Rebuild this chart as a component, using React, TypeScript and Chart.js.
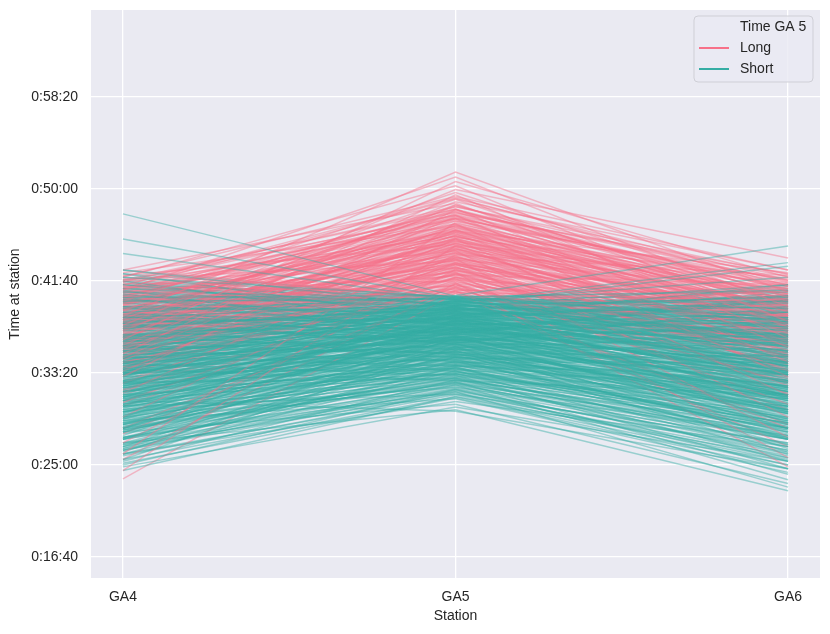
import React, { useEffect, useRef } from 'react';
import { Chart, registerables } from 'chart.js';

Chart.register(...registerables);

// Stations on the x axis, times in seconds
const stations = ['GA4', 'GA5', 'GA6'];
const yTicks = [1000, 1500, 2000, 2500, 3000, 3500];
const legendTitle = 'Time GA 5';
const groupNames = ['Long', 'Short'];

const longGA4 = [
  2310, 2450, 2180, 2520, 2260, 2390, 2105, 2475, 2340, 2230,
  2560, 2150, 2295, 2410, 1980, 2365, 2205, 2500, 2085, 2320,
  2430, 2240, 1560, 2375, 2130, 2545, 2285, 2010, 2455, 2190,
  2350, 2070, 2495, 2215, 1890, 2400, 2275, 2140, 2530, 1470,
  2250, 2385, 2035, 2460, 2165, 2305, 1760, 2425, 2120, 2355,
  2200, 2510, 1945, 2330, 2090, 2270, 2440, 1620, 2225, 2380,
  2055, 2290, 2415, 1840, 2170, 2345, 2485, 2110, 1530, 2265,
  2395, 2145, 2020, 2320, 1700, 2245, 2470, 2185, 1425, 2060,
  2280, 2410, 2195, 2335, 2460, 2125, 2370, 2250, 2505, 2160,
  2300, 2435, 2075, 2220, 2390, 2270, 2145, 2480, 2315, 1990,
  2360, 2240, 2420, 2100, 2285, 2525, 2175, 2340, 1905, 2405,
  2210, 2450, 2130, 2325, 2260, 2030, 2380, 2495, 2190, 2300,
  2420, 2080, 2350, 2235, 1820, 2465, 2155, 2310, 2275, 2400,
  2115, 2345, 1670, 2205, 2440, 2290, 2050, 2370, 2230, 2160,
  2080, 2210, 1960, 2150, 2290, 2030, 2180, 1910, 2250, 2110,
  2000, 2240, 2060, 1880, 2200, 2130, 2270, 1990, 2170, 2050,
  2230, 1940, 2120, 2300, 2020, 2190, 1850, 2140, 2260, 2090,
];
const longGA5 = [
  3092, 3065, 3041, 3018, 2997, 2981, 2968, 2952, 2944, 2931,
  2922, 2913, 2905, 2893, 2887, 2876, 2868, 2859, 2851, 2843,
  2838, 2826, 2819, 2811, 2803, 2797, 2788, 2779, 2772, 2766,
  2758, 2751, 2743, 2737, 2729, 2722, 2714, 2706, 2699, 2693,
  2686, 2678, 2672, 2664, 2657, 2649, 2643, 2636, 2628, 2621,
  2615, 2607, 2598, 2592, 2585, 2577, 2569, 2562, 2556, 2547,
  2541, 2533, 2526, 2519, 2512, 2505, 2498, 2491, 2486, 2479,
  2473, 2466, 2461, 2455, 2449, 2446, 2441, 2438, 2434, 2431,
  2915, 2862, 2734, 2808, 2947, 2683, 2771, 2626, 2890, 2571,
  2702, 2839, 2548, 2657, 2754, 2597, 2521, 2873, 2689, 2483,
  2796, 2614, 2827, 2532, 2718, 2959, 2575, 2745, 2462, 2781,
  2641, 2856, 2509, 2673, 2602, 2470, 2742, 2903, 2559, 2665,
  2812, 2497, 2728, 2587, 2452, 2844, 2538, 2695, 2631, 2765,
  2516, 2709, 2444, 2593, 2881, 2652, 2489, 2777, 2618, 2555,
  2612, 2775, 2538, 2690, 2854, 2577, 2731, 2506, 2803, 2649,
  2563, 2762, 2601, 2481, 2719, 2668, 2836, 2545, 2704, 2590,
  2747, 2522, 2677, 2889, 2568, 2726, 2467, 2634, 2791, 2623,
];
const longGA6 = [
  2440, 2360, 2520, 2280, 2625, 2410, 2190, 2475, 2330, 2560,
  2250, 2390, 2495, 2140, 2430, 2310, 2540, 2060, 2380, 2455,
  2215, 2505, 2350, 1980, 2420, 2290, 2470, 2170, 2545, 2320,
  2100, 2400, 2265, 2515, 1880, 2360, 2445, 2230, 2010, 2485,
  2300, 2160, 2430, 1760, 2375, 2250, 2530, 2080, 2340, 1650,
  2460, 2205, 2020, 2390, 2285, 1930, 2415, 2125, 2350, 1540,
  2240, 2480, 2090, 2320, 1830, 2400, 2180, 1490, 2270, 2045,
  2370, 2150, 1950, 2310, 2440, 1700, 2220, 2390, 1600, 2110,
  2395, 2470, 2260, 2335, 2505, 2180, 2420, 2290, 2450, 2120,
  2355, 2490, 2060, 2230, 2400, 2310, 2150, 2525, 2270, 1970,
  2430, 2200, 2375, 2095, 2320, 2560, 2165, 2345, 1890, 2415,
  2250, 2460, 2110, 2285, 2205, 2010, 2390, 2535, 2140, 2305,
  2445, 2075, 2365, 2240, 1800, 2480, 2130, 2330, 2215, 2405,
  2050, 2295, 1720, 2185, 2500, 2270, 1940, 2380, 2225, 2090,
  2150, 2280, 2030, 2210, 2360, 2090, 2250, 1960, 2320, 2170,
  2060, 2300, 2120, 1920, 2230, 2190, 2340, 2010, 2260, 2100,
  2290, 1980, 2160, 2380, 2070, 2240, 1870, 2200, 2310, 2140,
];

const shortGA4 = [
  2865, 2728, 2650, 2410, 2300, 2180, 2520, 2050, 2390, 1980, 2240, 2460, 2120, 1870, 2330, 2560, 2010, 2200, 1760, 2440,
  2350, 2150, 1950, 2480, 2270, 1820, 2090, 2400, 2210, 1700, 2540, 2020, 2300, 1890, 2170, 2430, 1990, 2250, 1780, 2360,
  2070, 2190, 1660, 2320, 1930, 2500, 2130, 1850, 2280, 2040,
  2230, 1900, 2110, 2380, 1750, 2060, 2290, 1960, 2170, 1640, 2450, 2010, 2200, 1810, 2330, 2080, 1920, 2260, 1570, 2140,
  1990, 2360, 1720, 2050, 2210, 1880, 2410, 2000, 1700, 2160, 1940, 2270, 1830, 2120, 1600,
  2080, 1860, 2190, 1680, 2020, 2310, 1770, 1950, 2150, 1590, 2240, 1900, 2060, 1740, 2180, 1830, 2000, 1640, 2120, 1920,
  2270, 1790, 1530, 2100, 1970, 2210, 1710, 2040, 1870, 2140,
  1980, 1720, 2090, 1820, 1610, 2000, 1900, 1560, 2150, 1760, 1880, 1650, 2050, 1800, 1690, 1950, 1520, 2020, 1730, 1850,
  1600, 1940,
  1700, 1580, 1790, 1500, 1650, 1820, 1470, 1740, 1560, 1680, 1490, 1620, 1850,
  2150, 1980, 2310, 1870, 2080, 2240, 1760, 2420, 2010, 2190,
  1930, 2360, 2100, 1820, 2270, 2040, 1700, 2200, 2480, 1950,
  2120, 2330, 1890, 2060, 2250, 1790, 2390, 2000, 2170, 1850,
  2290, 1960, 2140, 1680, 2230, 2070, 2400, 1910, 2180, 2030,
  1800, 2260, 2110, 1940, 2350, 1730, 2090, 2210, 1990, 2440,
  1860, 2160, 2020, 2300, 1770, 2130, 1920, 2380, 2050, 1840,
  2220, 1970, 2100, 1650, 2280, 2000, 2170, 1900, 2340, 1810,
  2060, 2250, 1950, 2130, 1720, 2410, 2030, 1880, 2190, 2090,
  1990, 2320, 1830, 2150, 2040, 1750, 2270, 1960, 2110, 2460,
  1870, 2200, 1620, 2080, 2360, 1930, 2010, 2240, 1790, 2140,
  2300, 1900, 2070, 1690, 2180, 2020, 2390, 1850, 1580, 2120,
  1820, 1650, 1940, 1730, 2010, 1580, 1880, 1690, 2080, 1770,
  1620, 1960, 1840, 1710, 2050, 1600, 1900, 1750, 1530, 1990,
  1680, 1860, 2120, 1640, 1930, 1790, 1550, 2030, 1720, 1870,
  1610, 1980, 1800, 1670, 2100, 1740, 1510, 1910, 1830, 1700,
  2060, 1590, 1950, 1760, 1640, 2000, 1850, 1560, 1920, 1780,
  2380, 2510, 2290, 2450, 2330, 2560, 2260, 2420, 2490, 2310,
  2400, 2540, 2280, 2470, 2350, 2440, 2300, 2520, 2370, 2250,
  2460, 2320, 2500, 2390, 2270, 2430, 2340, 2480, 2410, 2360,
];
const shortGA5 = [
  2418, 2405, 2395, 2422, 2380, 2370, 2412, 2365, 2402, 2388, 2358, 2375, 2392, 2352, 2415, 2360, 2398, 2383, 2368, 2355,
  2345, 2338, 2331, 2326, 2319, 2312, 2307, 2301, 2296, 2290, 2284, 2279, 2274, 2268, 2263, 2258, 2253, 2347, 2334, 2322,
  2310, 2299, 2286, 2277, 2266, 2255, 2341, 2316, 2293, 2270,
  2248, 2243, 2238, 2233, 2228, 2224, 2219, 2214, 2209, 2204, 2200, 2196, 2191, 2187, 2182, 2178, 2173, 2169, 2164, 2160,
  2156, 2152, 2246, 2236, 2226, 2216, 2206, 2194, 2184, 2175, 2166, 2158, 2230, 2212, 2189,
  2147, 2142, 2138, 2133, 2129, 2124, 2120, 2115, 2111, 2106, 2102, 2097, 2093, 2088, 2084, 2079, 2075, 2070, 2066, 2061,
  2057, 2053, 2144, 2135, 2118, 2100, 2086, 2072, 2059, 2108,
  2048, 2043, 2038, 2033, 2028, 2023, 2018, 2013, 2008, 2003, 1998, 1993, 1988, 1982, 1976, 1970, 1964, 1958, 1953, 1996,
  2040, 2026,
  1945, 1935, 1922, 1910, 1898, 1885, 1872, 1860, 1845, 1830, 1815, 1800, 1792,
  2395, 2362, 2410, 2287, 2331, 2378, 2214, 2404, 2246, 2349,
  2262, 2391, 2305, 2198, 2370, 2279, 2136, 2327, 2416, 2231,
  2318, 2385, 2252, 2296, 2357, 2167, 2400, 2241, 2341, 2205,
  2366, 2273, 2310, 2122, 2348, 2284, 2408, 2219, 2336, 2258,
  2177, 2353, 2302, 2236, 2382, 2143, 2291, 2339, 2268, 2413,
  2189, 2324, 2248, 2374, 2155, 2313, 2222, 2397, 2281, 2193,
  2343, 2263, 2299, 2086, 2361, 2244, 2329, 2208, 2388, 2159,
  2272, 2352, 2227, 2316, 2111, 2405, 2256, 2182, 2334, 2289,
  2238, 2369, 2170, 2307, 2265, 2129, 2346, 2217, 2294, 2419,
  2196, 2322, 2064, 2276, 2389, 2229, 2253, 2359, 2148, 2301,
  2376, 2201, 2285, 2097, 2320, 2240, 2402, 2186, 2032, 2297,
  2012, 1934, 2087, 1968, 2141, 1902, 2045, 1951, 2173, 1989,
  1917, 2104, 2026, 1943, 2158, 1889, 2068, 1976, 1871, 2119,
  1958, 2037, 2196, 1925, 2093, 2004, 1896, 2132, 1962, 2058,
  1908, 2111, 2019, 1949, 2182, 1983, 1864, 2076, 2041, 1972,
  2150, 1913, 2099, 1996, 1939, 2127, 2050, 1882, 2083, 2008,
  2288, 2364, 2215, 2331, 2247, 2398, 2182, 2309, 2376, 2232,
  2281, 2411, 2196, 2344, 2259, 2322, 2208, 2387, 2271, 2163,
  2337, 2224, 2369, 2296, 2177, 2315, 2240, 2355, 2302, 2266,
];
const shortGA6 = [
  2280, 2350, 2190, 2690, 2600, 2580, 2450, 2410, 2300, 2520, 2170, 2390, 2250, 2330, 2080, 2480, 2140, 2000, 2290, 2210,
  2420, 2250, 2120, 2300, 2010, 2180, 2380, 1950, 2230, 2060, 2150, 2440, 1880, 2270, 2100, 2330, 1990, 2200, 1790, 2360,
  2040, 2480, 1920, 2160, 2290, 2070, 1860, 2390, 1730, 2210,
  2020, 2190, 1900, 2300, 1820, 2120, 2400, 1960, 2240, 1700, 2050, 2330, 1880, 2150, 1990, 2270, 1780, 2090, 1640, 2360,
  1930, 2180, 2010, 1850, 2160, 2420, 1920, 2060, 1750, 2200, 2000, 1800, 2280, 2110, 1880,
  1960, 2130, 1830, 1720, 2050, 2220, 1650, 1900, 2090, 1780, 1990, 2170, 1740, 1880, 2010, 1610, 2100, 1820, 1950, 1700,
  2060, 1860, 1590, 2280, 1790, 1930, 2040, 1680, 1940, 1570,
  1880, 1700, 1990, 1560, 1800, 1650, 1920, 1520, 1760, 1860, 1600, 1730, 1480, 1820, 1640, 1540, 1700, 1880, 1450, 1780,
  1930, 1690,
  1580, 1420, 1660, 1500, 1380, 1620, 1540, 1460, 1600, 1400, 1520, 1360, 1480,
  2180, 2050, 2300, 1960, 2120, 2240, 1850, 2390, 2010, 2150,
  1990, 2330, 2100, 1820, 2260, 2060, 1780, 2200, 2440, 1930,
  2140, 2280, 1900, 2070, 2210, 1760, 2350, 2000, 2170, 1880,
  2250, 1970, 2090, 1700, 2190, 2040, 2370, 1910, 2130, 2020,
  1800, 2230, 2110, 1950, 2310, 1740, 2080, 2160, 1990, 2410,
  1870, 2120, 2030, 2270, 1790, 2100, 1940, 2340, 2060, 1840,
  2200, 1980, 2050, 1660, 2240, 1960, 2150, 1890, 2290, 1810,
  2040, 2220, 1920, 2110, 1720, 2380, 2000, 1860, 2170, 2070,
  1950, 2260, 1830, 2090, 2020, 1750, 2210, 1900, 2080, 2400,
  1880, 2140, 1680, 2030, 2320, 1910, 1990, 2180, 1800, 2060,
  2230, 1870, 2010, 1710, 2120, 1970, 2350, 1850, 1640, 2040,
  1760, 1640, 1880, 1700, 1950, 1580, 1810, 1660, 2020, 1730,
  1600, 1900, 1790, 1680, 2000, 1550, 1850, 1720, 1500, 1930,
  1650, 1820, 2060, 1620, 1870, 1740, 1530, 1980, 1690, 1840,
  1570, 1910, 1770, 1640, 2040, 1710, 1480, 1860, 1800, 1670,
  1990, 1560, 1890, 1750, 1610, 1960, 1830, 1520, 1870, 1730,
  2340, 2290, 2430, 2210, 2380, 2320, 2260, 2470, 2190, 2400,
  2300, 2360, 2240, 2450, 2170, 2330, 2410, 2270, 2200, 2350,
  2420, 2150, 2310, 2390, 2230, 2460, 2280, 2180, 2370, 2250,
];

const LONG_COLOR = '#f77189';
const SHORT_COLOR = '#36ada4';
const LINE_ALPHA = '73';
const FONT = '"Liberation Sans", Arial, Helvetica, sans-serif';

function fmtTime(v: number) {
  const s = Math.round(v);
  const h = Math.floor(s / 3600);
  const m = Math.floor((s % 3600) / 60);
  const sec = s % 60;
  return `${h}:${String(m).padStart(2, '0')}:${String(sec).padStart(2, '0')}`;
}

function lineDataset(a: number, b: number, c: number, color: string) {
  return {
    data: [
      { x: 0, y: a },
      { x: 1, y: b },
      { x: 2, y: c },
    ],
    showLine: true,
    borderColor: color + LINE_ALPHA,
    borderWidth: 1.5,
    pointRadius: 0,
    fill: false,
  };
}

const backgroundPlugin = {
  id: 'plotBackground',
  beforeDraw(chart: any) {
    const { ctx, chartArea } = chart;
    ctx.save();
    ctx.fillStyle = '#eaeaf2';
    ctx.fillRect(chartArea.left, chartArea.top, chartArea.right - chartArea.left, chartArea.bottom - chartArea.top);
    ctx.restore();
  },
};

const legendPlugin = {
  id: 'insideLegend',
  afterDraw(chart: any) {
    const { ctx, chartArea } = chart;
    const w = 119;
    const h = 66;
    const x = chartArea.right - 7 - w;
    const y = chartArea.top + 6;
    ctx.save();
    ctx.beginPath();
    ctx.roundRect(x, y, w, h, 4);
    ctx.fillStyle = 'rgba(234,234,242,0.8)';
    ctx.fill();
    ctx.strokeStyle = '#cfcfd6';
    ctx.lineWidth = 1;
    ctx.stroke();
    ctx.font = `14px ${FONT}`;
    ctx.fillStyle = '#262626';
    ctx.textBaseline = 'middle';
    ctx.textAlign = 'left';
    ctx.fillText(legendTitle, x + 46, y + 11);
    const colors = [LONG_COLOR, SHORT_COLOR];
    groupNames.forEach((name, i) => {
      const ly = y + 32 + i * 21;
      ctx.beginPath();
      ctx.moveTo(x + 5, ly);
      ctx.lineTo(x + 35, ly);
      ctx.strokeStyle = colors[i];
      ctx.lineWidth = 2;
      ctx.stroke();
      ctx.fillText(name, x + 46, ly);
    });
    ctx.restore();
  },
};

export default function App() {
  const canvasRef = useRef<HTMLCanvasElement>(null);

  useEffect(() => {
    document.body.style.margin = '0';
    const ctx = canvasRef.current?.getContext('2d');
    if (!ctx) return;

    // interleave the two groups so neither colour sits entirely on top
    const datasets: any[] = [];
    let k = 0;
    for (let i = 0; i < shortGA5.length; i++) {
      datasets.push(lineDataset(shortGA4[i], shortGA5[i], shortGA6[i], SHORT_COLOR));
      while (k < longGA5.length && k < ((i + 1) * longGA5.length) / shortGA5.length) {
        datasets.push(lineDataset(longGA4[k], longGA5[k], longGA6[k], LONG_COLOR));
        k++;
      }
    }

    const chart = new Chart(ctx, {
      type: 'scatter',
      data: { datasets },
      options: {
        animation: false,
        responsive: true,
        maintainAspectRatio: false,
        events: [],
        layout: { padding: { left: 0, right: 10, top: 10, bottom: 0 } },
        plugins: {
          legend: { display: false },
          tooltip: { enabled: false },
        },
        scales: {
          x: {
            type: 'linear',
            min: -0.096,
            max: 2.096,
            afterBuildTicks: (scale: any) => {
              scale.ticks = stations.map((_, i) => ({ value: i }));
            },
            afterFit: (scale: any) => {
              scale.height = 56;
              scale.paddingLeft = 0;
              scale.paddingRight = 0;
            },
            grid: { color: '#ffffff', lineWidth: 1.3, drawTicks: false },
            border: { display: false },
            ticks: {
              padding: 11,
              color: '#262626',
              font: { family: FONT, size: 14 },
              callback: (v: any) => stations[Number(v)] ?? '',
            },
            title: {
              display: true,
              text: 'Station',
              color: '#262626',
              font: { family: FONT, size: 14 },
              padding: { top: 2, bottom: 9 },
            },
          },
          y: {
            type: 'linear',
            min: 886,
            max: 3973,
            afterBuildTicks: (scale: any) => {
              scale.ticks = yTicks.map((v) => ({ value: v }));
            },
            afterFit: (scale: any) => {
              scale.width = 91;
              scale.paddingTop = 0;
              scale.paddingBottom = 0;
            },
            grid: { color: '#ffffff', lineWidth: 1.3, drawTicks: false },
            border: { display: false },
            ticks: {
              padding: 13,
              color: '#262626',
              font: { family: FONT, size: 14 },
              callback: (v: any) => fmtTime(Number(v)),
            },
            title: {
              display: true,
              text: 'Time at station',
              color: '#262626',
              font: { family: FONT, size: 14 },
              padding: { top: 7, bottom: 4 },
            },
          },
        },
      },
      plugins: [backgroundPlugin, legendPlugin],
    });

    return () => chart.destroy();
  }, []);

  return (
    <div style={{ width: 830, height: 634, position: 'relative' }}>
      <canvas ref={canvasRef} />
    </div>
  );
}
